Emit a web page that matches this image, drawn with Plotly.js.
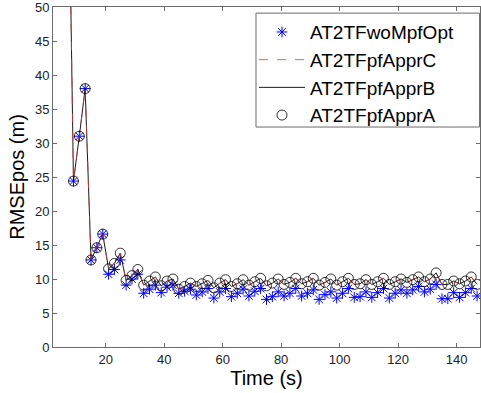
<!DOCTYPE html>
<html>
<head>
<meta charset="utf-8">
<script src="https://cdn.plot.ly/plotly-3.0.1.min.js"></script>
<style>html,body{margin:0;padding:0;background:#fff;}#chart{width:481px;height:393px;}</style>
</head>
<body>
<div id="chart"></div>
<script>
// Time stamps (s)
var timeS = [7,9,11,13,15,17,19,21,23,25,27,29,31,33,35,37,39,41,43,45,47,49,51,53,55,57,59,61,63,65,67,69,71,73,75,77,79,81,83,85,87,89,91,93,95,97,99,101,103,105,107,109,111,113,115,117,119,121,123,125,127,129,131,133,135,137,139,141,143,145,147];

// AT2TFwoMpfOpt (blue asterisks)
var woMpfOpt = [82,24.4,31.0,38.0,12.8,14.6,16.6,10.7,11.4,12.8,9.1,10.0,10.7,7.9,8.5,9.1,8.0,8.8,9.1,7.9,8.2,8.5,7.65,8.1,8.6,7.2,8.1,8.6,7.4,7.9,8.5,7.5,8.2,8.6,7.0,7.4,8.1,7.5,7.9,8.6,7.5,7.9,8.4,7.0,7.7,8.1,7.2,7.9,8.6,7.3,7.4,8.1,7.3,8.0,8.6,7.2,7.9,8.4,7.9,8.4,8.9,8.1,8.5,9.2,7.1,7.1,8.0,7.3,8.0,8.6,7.5];

// AT2TFpfApprC (red dashed)
var pfApprC = [82,24.4,31.0,38.0,12.8,14.6,16.6,11.5,12.3,13.8,9.8,10.5,11.4,9.1,9.7,10.3,9.0,9.7,10.0,8.5,8.9,9.4,8.9,9.3,9.8,8.8,9.4,9.9,8.9,9.3,9.9,9.1,9.6,10.1,9.0,9.4,10.0,9.2,9.5,10.1,9.3,9.6,10.1,9.1,9.5,10.0,9.1,9.6,10.1,9.2,9.3,9.9,9.2,9.6,10.1,9.2,9.6,10.0,9.5,9.9,10.3,9.6,10.0,10.8,9.2,9.2,9.7,9.3,9.7,10.3,9.2];

// AT2TFpfApprB (black line)
var pfApprB = [82,24.4,31.0,38.0,12.8,14.6,16.6,11.5,12.3,13.8,9.8,10.5,11.4,9.1,9.7,10.3,9.0,9.7,10.0,8.5,8.9,9.4,8.9,9.3,9.8,8.7,9.4,9.9,8.9,9.3,9.9,9.1,9.6,10.1,9.0,9.4,10.0,9.2,9.5,10.1,9.3,9.6,10.1,9.1,9.5,10.0,9.1,9.6,10.1,9.2,9.3,9.9,9.2,9.6,10.1,9.2,9.6,10.0,9.5,9.9,10.3,9.6,10.0,10.9,9.2,9.2,9.7,9.3,9.7,10.3,9.2];

// AT2TFpfApprA (black circles)
var pfApprA = [82,24.4,31.0,38.0,12.8,14.6,16.6,11.5,12.3,13.8,9.8,10.5,11.4,9.1,9.7,10.3,9.0,9.7,10.0,8.5,8.9,9.4,8.9,9.3,9.8,8.7,9.4,9.9,8.9,9.3,9.9,9.1,9.6,10.1,9.0,9.4,10.0,9.2,9.5,10.1,9.3,9.6,10.1,9.1,9.5,10.0,9.1,9.6,10.1,9.2,9.3,9.9,9.2,9.6,10.1,9.2,9.6,10.0,9.5,9.9,10.3,9.6,10.0,10.9,9.2,9.2,9.7,9.3,9.7,10.3,9.2];

var xTicks = [20,40,60,80,100,120,140];
var yTicks = [0,5,10,15,20,25,30,35,40,45,50];

var traces = [
  {x: timeS, y: woMpfOpt, name: 'AT2TFwoMpfOpt', mode: 'markers', legendrank: 1,
   marker: {symbol: 'asterisk-open', size: 9, color: '#0000ff', line: {width: 1, color: '#0000ff'}}},
  {x: timeS, y: pfApprB, name: 'AT2TFpfApprB', mode: 'lines', legendrank: 3,
   line: {color: '#000000', width: 0.9}},
  {x: timeS, y: pfApprC, name: 'AT2TFpfApprC', mode: 'lines', legendrank: 2,
   line: {color: '#dd3a3a', width: 0.8, dash: 'dash'}},
  {x: timeS, y: pfApprA, name: 'AT2TFpfApprA', mode: 'markers', legendrank: 4,
   marker: {symbol: 'circle-open', size: 10, color: '#000000', line: {width: 0.8, color: '#000000'}}}
];

var axisCommon = {
  showline: true, linecolor: '#6b6b6b', linewidth: 1, mirror: 'ticks',
  ticks: 'inside', ticklen: 4, tickcolor: '#6b6b6b', tickwidth: 1,
  showgrid: false, zeroline: false, ticklabeloverflow: 'allow',
  tickfont: {family: 'Liberation Sans, Arial, sans-serif', size: 13, color: '#222'}
};

var layout = {
  width: 481, height: 393,
  margin: {l: 53, r: 1, t: 7, b: 46},
  paper_bgcolor: '#fff', plot_bgcolor: '#fff',
  font: {family: 'Liberation Sans, Arial, sans-serif', color: '#000'},
  showlegend: true,
  legend: {
    x: 0.4707, xanchor: 'left', y: 0.982, yanchor: 'top',
    bgcolor: 'rgba(0,0,0,0)', borderwidth: 0,
    font: {family: 'Liberation Sans, Arial, sans-serif', size: 19, color: '#000'},
    itemwidth: 46, tracegroupgap: 0
  },
  shapes: [{
    type: 'rect', xref: 'paper', yref: 'paper', layer: 'above',
    x0: 0.4754, x1: 0.999, y0: 0.647, y1: 0.982,
    fillcolor: '#ffffff', line: {color: '#6b6b6b', width: 1}
  }],
  xaxis: Object.assign({}, axisCommon, {
    range: [2, 148], tickmode: 'array', tickvals: xTicks, ticktext: xTicks.map(String),
    title: {text: 'Time (s)', font: {size: 20, color: '#000'}, standoff: 4}
  }),
  yaxis: Object.assign({}, axisCommon, {
    range: [-0.0001, 50.0001], tickmode: 'array', tickvals: yTicks, ticktext: yTicks.map(String),
    title: {text: 'RMSEpos (m)', font: {size: 20, color: '#000'}, standoff: 4}
  })
};

Plotly.newPlot('chart', traces, layout, {staticPlot: true, displayModeBar: false});
</script>
</body>
</html>
